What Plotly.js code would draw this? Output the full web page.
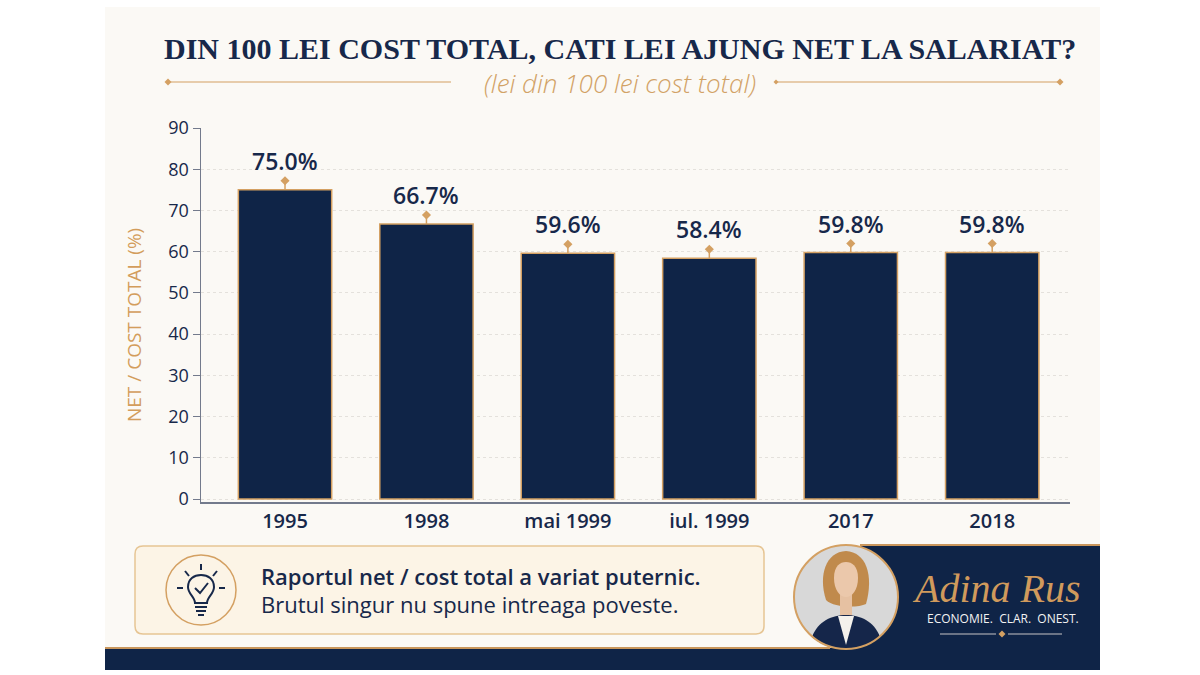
<!DOCTYPE html>
<html>
<head>
<meta charset="utf-8">
<script src="https://cdn.plot.ly/plotly-3.0.1.min.js"></script>
<style>
  html, body { margin: 0; padding: 0; background: #ffffff; }
  #chart { width: 1200px; height: 675px; }
</style>
</head>
<body>
<div id="chart"></div>
<script>
// data
var periods = ["1995", "1998", "mai 1999", "iul. 1999", "2017", "2018"];
var netShare = [75.0, 66.7, 59.6, 58.4, 59.8, 59.8];
var yTicks = [0, 10, 20, 30, 40, 50, 60, 70, 80, 90];

var NAVY = "#0f2447";
var GOLD = "#d4a062";
var INK = "#17284a";

// plot area in page pixels, used to place the decoration
var L = 201, R = 1070, T = 128, B = 502;
function px(x) { return (x - L) / (R - L); }
function py(y) { return (B - y) / (B - T); }
function pt(x, y) { return px(x) + "," + py(y); }

function diamond(cx, cy, r, color) {
    return {
        type: "path", xref: "paper", yref: "paper",
        path: "M" + pt(cx - r, cy) + " L" + pt(cx, cy - r) + " L" + pt(cx + r, cy) + " L" + pt(cx, cy + r) + " Z",
        fillcolor: color, line: { width: 0 }
    };
}
function rect(x0, y0, x1, y1, fill, layer) {
    return {
        type: "rect", xref: "paper", yref: "paper", layer: layer || "above",
        x0: px(x0), x1: px(x1), y0: py(y1), y1: py(y0),
        fillcolor: fill, line: { width: 0 }
    };
}
function hline(x0, x1, y, color, w) {
    return {
        type: "line", xref: "paper", yref: "paper",
        x0: px(x0), x1: px(x1), y0: py(y), y1: py(y),
        line: { color: color, width: w }
    };
}
function seg(x0, y0, x1, y1, color, w) {
    return {
        type: "line", xref: "paper", yref: "paper",
        x0: px(x0), x1: px(x1), y0: py(y0), y1: py(y1),
        line: { color: color, width: w }
    };
}
function circle(cx, cy, r, fill, lineColor, w) {
    return {
        type: "circle", xref: "paper", yref: "paper",
        x0: px(cx - r), x1: px(cx + r), y0: py(cy + r), y1: py(cy - r),
        fillcolor: fill, line: { color: lineColor, width: w }
    };
}
function path(d, fill, lineColor, w) {
    // d is a list of [cmd, x, y, x, y ...] in page pixels
    var s = d.map(function (p) {
        var out = p[0];
        for (var i = 1; i < p.length; i += 2) out += (i > 1 ? " " : "") + pt(p[i], p[i + 1]);
        return out;
    }).join(" ");
    return {
        type: "path", xref: "paper", yref: "paper", path: s,
        fillcolor: fill, line: { color: lineColor || "rgba(0,0,0,0)", width: w || 0 }
    };
}
function roundBox(x0, y0, x1, y1, r, fill, lineColor) {
    return path([
        ["M", x0 + r, y0], ["L", x1 - r, y0], ["Q", x1, y0, x1, y0 + r],
        ["L", x1, y1 - r], ["Q", x1, y1, x1 - r, y1], ["L", x0 + r, y1],
        ["Q", x0, y1, x0, y1 - r], ["L", x0, y0 + r], ["Q", x0, y0, x0 + r, y0], ["Z"]
    ], fill, lineColor, 1.5);
}

var bars = {
    type: "bar",
    x: periods,
    y: netShare,
    width: 0.66,
    marker: { color: NAVY, line: { color: GOLD, width: 1.5 } },
    hoverinfo: "skip"
};

// small gold stem with a diamond on top of each bar
var stemLen = netShare.map(function () { return 2.2; });
var stems = {
    type: "scatter",
    mode: "markers",
    x: periods,
    y: netShare.map(function (v, i) { return v + stemLen[i]; }),
    marker: { symbol: "diamond", size: 7, color: GOLD },
    error_y: {
        type: "data", symmetric: false,
        array: stemLen.map(function () { return 0; }),
        arrayminus: stemLen,
        width: 0, thickness: 1.5, color: GOLD
    },
    hoverinfo: "skip"
};

// category labels like "1995" look numeric, so annotations use the index
var valueLabels = periods.map(function (p, i) {
    return {
        x: i, y: netShare[i], xref: "x", yref: "y",
        text: netShare[i].toFixed(1) + "%",
        showarrow: false, yanchor: "bottom", yshift: 11,
        font: { family: "Open Sans", size: 23, color: INK, weight: 600 }
    };
});

var shapes = [
    rect(105, 7, 1100, 670, "#fbf9f5", "below"),
    // subtitle ornaments
    hline(168, 451, 82, GOLD, 1.2),
    diamond(168, 82, 3.5, GOLD),
    hline(776, 1060, 82, GOLD, 1.2),
    diamond(776, 82, 2.5, GOLD),
    diamond(1060, 82, 3.5, GOLD),
    // callout
    roundBox(135, 546, 764, 634, 8, "#fcf4e6", "#e6c594"),
    circle(201, 590, 35, "rgba(0,0,0,0)", GOLD, 1.5),
    // lightbulb icon
    path([["M", 195, 603], ["C", 195, 597, 188, 594, 188, 587], ["C", 188, 579, 194, 575, 201, 575],
          ["C", 208, 575, 214, 579, 214, 587], ["C", 214, 594, 207, 597, 207, 603], ["Z"]],
         "rgba(0,0,0,0)", INK, 2),
    path([["M", 195, 588], ["L", 200, 593], ["L", 208, 583]], "rgba(0,0,0,0)", INK, 2),
    seg(201, 564, 201, 570, INK, 2),
    seg(185, 571, 189, 576, INK, 2),
    seg(217, 571, 213, 576, INK, 2),
    seg(177, 588, 183, 588, INK, 2),
    seg(219, 588, 225, 588, INK, 2),
    seg(195, 607, 207, 607, INK, 2),
    seg(196, 611, 206, 611, INK, 2),
    seg(198, 615, 204, 615, INK, 2),
    // navy footer band and signature block
    rect(860, 545, 1100, 670, NAVY),
    hline(860, 1100, 545, "#c9965c", 2),
    rect(105, 648, 1100, 670, NAVY),
    hline(105, 830, 648, "#c9965c", 2),
    // portrait placeholder
    circle(846, 597, 52, "#d8d8d8", "rgba(0,0,0,0)", 0),
    path([["M", 826, 600], ["C", 818, 575, 826, 552, 846, 551], ["C", 866, 552, 874, 575, 866, 604],
          ["C", 858, 608, 834, 608, 826, 600], ["Z"]], "#c08a4c"),
    rect(840, 592, 852, 618, "#e6c1a2"),
    path([["M", 812, 637], ["C", 818, 621, 832, 615, 846, 615], ["C", 860, 615, 874, 621, 880, 637],
          ["C", 870, 646, 858, 649, 846, 649], ["C", 834, 649, 822, 646, 812, 637], ["Z"]], "#15264a"),
    path([["M", 838, 616], ["L", 846, 645], ["L", 854, 616], ["Z"]], "#f4f1ec"),
    path([["M", 834, 578], ["C", 834, 566, 840, 562, 846, 562], ["C", 852, 562, 858, 566, 858, 578],
          ["C", 858, 590, 852, 597, 846, 597], ["C", 840, 597, 834, 590, 834, 578], ["Z"]], "#ebc8ab"),
    circle(846, 597, 52, "rgba(0,0,0,0)", GOLD, 2),
    // tagline ornament
    hline(940, 996, 634, "#8b8f9b", 1.5),
    hline(1008, 1062, 634, "#8b8f9b", 1.5),
    diamond(1002, 634, 3.5, GOLD)
];

var texts = [
    {
        x: px(620), y: py(48), xref: "paper", yref: "paper",
        text: "<b>DIN 100 LEI COST TOTAL, CATI LEI AJUNG NET LA SALARIAT?</b>",
        showarrow: false, xanchor: "center", yanchor: "middle",
        font: { family: "Liberation Serif", size: 30, color: INK }
    },
    {
        x: px(620), y: py(83), xref: "paper", yref: "paper",
        text: "(lei din 100 lei cost total)",
        showarrow: false, xanchor: "center", yanchor: "middle",
        font: { family: "Open Sans", size: 26, color: "#d2a266", style: "italic", weight: 300 }
    },
    {
        x: px(134), y: py(325), xref: "paper", yref: "paper",
        text: "NET / COST TOTAL (%)", textangle: -90,
        showarrow: false, xanchor: "center", yanchor: "middle",
        font: { family: "Open Sans", size: 19, color: "#d39d5c" }
    },
    {
        x: px(259), y: py(576), xref: "paper", yref: "paper",
        text: "Raportul net / cost total a variat puternic.",
        showarrow: false, xanchor: "left", yanchor: "middle",
        font: { family: "Open Sans", size: 22, color: INK, weight: 600 }
    },
    {
        x: px(259), y: py(604), xref: "paper", yref: "paper",
        text: "Brutul singur nu spune intreaga poveste.",
        showarrow: false, xanchor: "left", yanchor: "middle",
        font: { family: "Open Sans", size: 22, color: INK }
    },
    {
        x: px(996), y: py(588), xref: "paper", yref: "paper",
        text: "Adina Rus",
        showarrow: false, xanchor: "center", yanchor: "middle",
        font: { family: "Liberation Serif", size: 40, color: "#d09a5c", style: "italic" }
    },
    {
        x: px(1003), y: py(618), xref: "paper", yref: "paper",
        text: "ECONOMIE.  CLAR.  ONEST.",
        showarrow: false, xanchor: "center", yanchor: "middle",
        font: { family: "Open Sans", size: 12, color: "#f2f2f2" }
    }
];

var layout = {
    width: 1200,
    height: 675,
    margin: { l: L, r: 1200 - R, t: T, b: 675 - B, pad: 0 },
    paper_bgcolor: "#ffffff",
    plot_bgcolor: "rgba(0,0,0,0)",
    showlegend: false,
    xaxis: {
        type: "category",
        range: [-0.594, 5.55],
        showgrid: false,
        showline: true, linecolor: "#737a8c", linewidth: 2,
        ticks: "",
        tickfont: { family: "Open Sans", size: 20, color: INK, weight: 600 },
        fixedrange: true
    },
    yaxis: {
        range: [-0.7, 90],
        tickvals: yTicks,
        showgrid: true, gridcolor: "#e4e1dc", griddash: "dot", gridwidth: 1,
        zeroline: false,
        showline: true, linecolor: "#737a8c", linewidth: 1.5,
        ticks: "outside", ticklen: 7, tickcolor: "#737a8c",
        tickfont: { family: "Open Sans", size: 18, color: INK },
        fixedrange: true
    },
    shapes: shapes,
    annotations: valueLabels.concat(texts)
};

Plotly.newPlot("chart", [bars, stems], layout, { displayModeBar: false, staticPlot: true });
</script>
</body>
</html>
